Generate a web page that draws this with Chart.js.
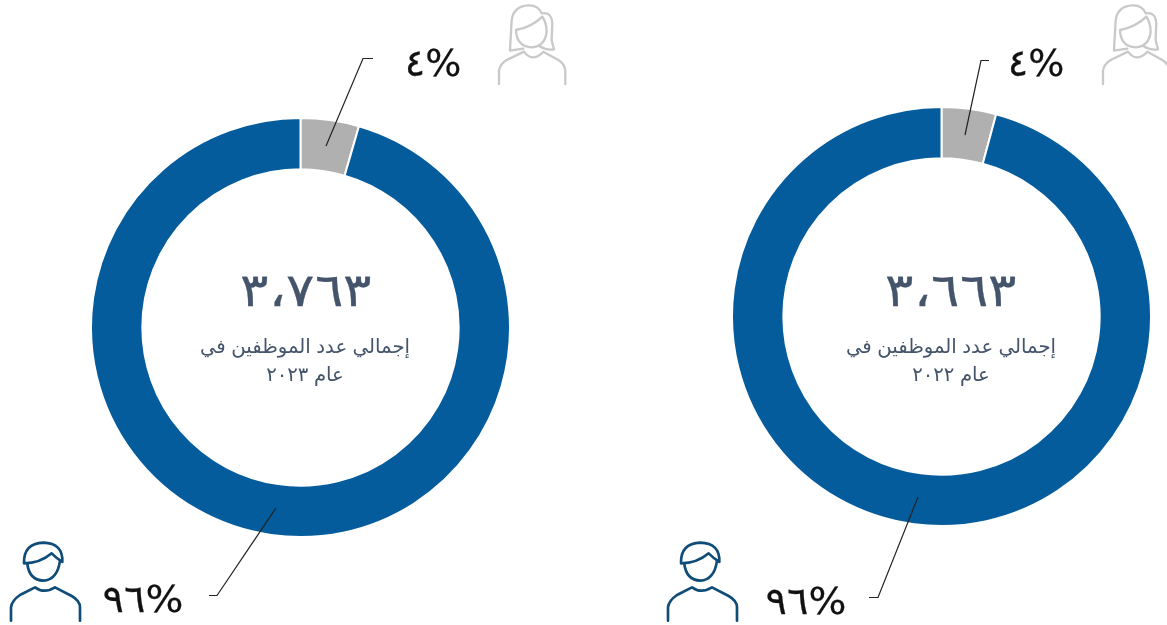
<!DOCTYPE html>
<html lang="ar">
<head>
<meta charset="utf-8">
<script src="https://cdn.jsdelivr.net/npm/chart.js@4"></script>
<style>
html, body { margin: 0; padding: 0; background: #fff; }
#page { position: relative; width: 1167px; height: 625px; overflow: hidden; }
canvas { position: absolute; }
svg { position: absolute; left: 0; top: 0; }
.txt { position: absolute; white-space: nowrap; text-align: center; transform: translateX(-50%); }
.total { font-family: "Liberation Serif", serif; font-size: 46px; color: #44546a; line-height: 50px; direction: ltr; -webkit-text-stroke: .3px #44546a; transform: translateX(-50%) scaleX(1.15); }
.sub { font-family: "Liberation Sans", "DejaVu Sans", sans-serif; font-size: 19.7px; color: #44546a; line-height: 28px; direction: rtl; }
.pct { font-family: "DejaVu Sans", sans-serif; font-size: 38px; color: #111; line-height: 44px; direction: ltr; -webkit-text-stroke: .25px #111; }
.ancho { transform: translateX(-50%) scaleX(1.05); }
</style>
</head>
<body>
<div id="page">
  <canvas id="chart2023" style="left:90px;top:117px"></canvas>
  <canvas id="chart2022" style="left:731px;top:106px"></canvas>
  <svg width="1167" height="625" fill="none">
    <defs>
      <g id="woman" stroke-width="7" stroke-linejoin="round" stroke-linecap="round">
        <path d="M627 252V212Q630 192 650 180L702 155Q715 172 728 172Q745 172 760 155L805 180Q825 192 826 212V252"/>
        <path d="M700 146L660 152L665 62Q670 18 715 16Q745 15 755 40Q785 35 787 70L785 120L792 148Q770 152 748 138"/>
        <path d="M678 90Q725 82 757 50Q770 70 770 95Q765 140 725 142Q680 140 678 90Z"/>
      </g>
      <g id="man" stroke-width="8" stroke-linejoin="round" stroke-linecap="round">
        <path d="M33 362V322Q35 302 60 285L105 262Q132 282 165 262L215 288Q240 302 240 322V362"/>
        <path d="M72 190Q70 130 130 128Q190 130 187 186Q170 175 155 160Q120 190 72 190Z"/>
        <path d="M82 192Q88 240 130 242Q172 240 180 182"/>
      </g>
    </defs>
    <use href="#woman" stroke="#c9c9c9" transform="translate(290 0) scale(.3333)"/>
    <use href="#woman" stroke="#c9c9c9" transform="translate(930 0) translate(-36 0) scale(.3333)"/>
    <use href="#man" stroke="#0f4c78" transform="translate(0 500) scale(.3333)"/>
    <use href="#man" stroke="#0f4c78" transform="translate(657 500) scale(.3333)"/>
    <g stroke="#222" stroke-width="1.2">
      <path d="M373 58.5H363L326 146"/>
      <path d="M276 508L217 595.5H209"/>
      <path d="M989 60.5H981L965 135"/>
      <path d="M918 497L878 597.5H869"/>
    </g>
  </svg>
  <div class="txt total" id="total2023" style="left:306px;top:266px"></div>
  <div class="txt sub" id="sub2023" style="left:305px;top:332px"></div>
  <div class="txt total" id="total2022" style="left:951px;top:266px"></div>
  <div class="txt sub" id="sub2022" style="left:951px;top:332px"></div>
  <div class="txt pct" id="w2023" style="left:433px;top:41px"></div>
  <div class="txt pct ancho" id="m2023" style="left:143px;top:577px"></div>
  <div class="txt pct" id="w2022" style="left:1036px;top:41px"></div>
  <div class="txt pct ancho" id="m2022" style="left:806px;top:579px"></div>
</div>
<script>
const categorias = ['نساء', 'رجال'];
const valores2023 = [4.5, 95.5];
const valores2022 = [4.2, 95.8];
const colores = ['#b0b0b0', '#045c9c'];

const etiquetaMujeres = '٤%';
const etiquetaHombres = '٩٦%';
const total2023 = '٣،٧٦٣';
const total2022 = '٣،٦٦٣';
const texto2023 = ['إجمالي عدد الموظفين في', 'عام ٢٠٢٣'];
const texto2022 = ['إجمالي عدد الموظفين في', 'عام ٢٠٢٢'];

function crearDona(id, valores) {
	let canvas = document.getElementById(id);
	canvas.width = 421;
	canvas.height = 421;
	return new Chart(canvas.getContext('2d'), {
		type: 'doughnut',
		data: {
			labels: categorias,
			datasets: [{
				data: valores,
				backgroundColor: colores,
				borderColor: '#ffffff',
				borderWidth: 2
			}]
		},
		options: {
			responsive: false,
			animation: false,
			cutout: '75.5%',
			plugins: {
				legend: { display: false },
				tooltip: { enabled: false }
			}
		}
	});
}

function ponerTexto(id, lineas) {
	document.getElementById(id).innerHTML = [].concat(lineas).join('<br>');
}

crearDona('chart2023', valores2023);
crearDona('chart2022', valores2022);

ponerTexto('total2023', total2023);
ponerTexto('total2022', total2022);
ponerTexto('sub2023', texto2023);
ponerTexto('sub2022', texto2022);
ponerTexto('w2023', etiquetaMujeres);
ponerTexto('w2022', etiquetaMujeres);
ponerTexto('m2023', etiquetaHombres);
ponerTexto('m2022', etiquetaHombres);
</script>
</body>
</html>
